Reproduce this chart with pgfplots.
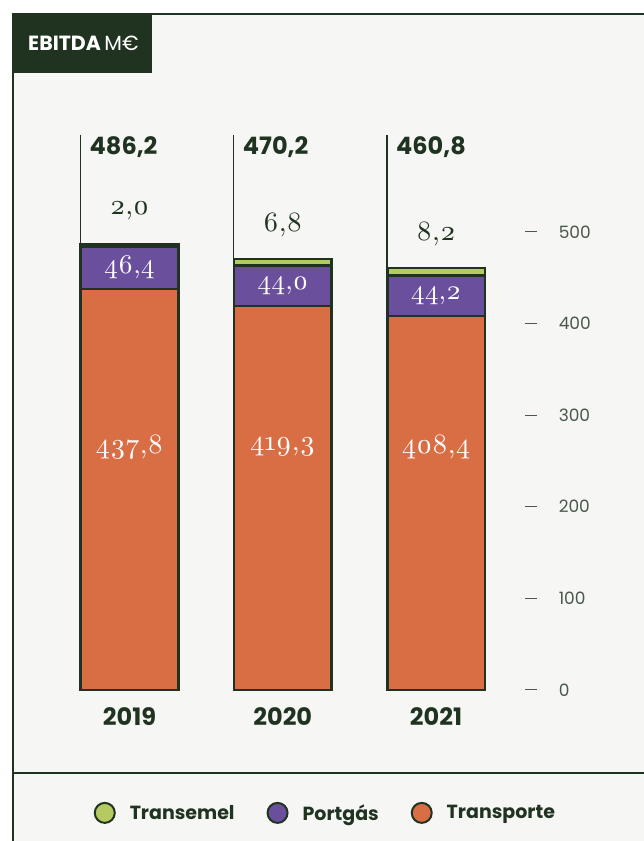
\documentclass[border=0pt]{standalone}
\usepackage{pgfplots}
\pgfplotsset{compat=1.18}
\usepackage{fontspec}
\newfontfamily\pop{Poppins}
\newfontfamily\numf{lmroman10-regular}[Extension=.otf, Numbers=OldStyle]
\newcommand\fs[1]{\fontsize{#1bp}{#1bp}\selectfont}
\definecolor{dkg}{HTML}{1F3320}
\definecolor{bgc}{HTML}{F6F6F4}
\definecolor{orng}{HTML}{D96E45}
\definecolor{purp}{HTML}{6A4F9D}
\definecolor{lgrn}{HTML}{B5CB61}
\definecolor{tickc}{HTML}{4A584B}
\begin{document}
\begin{tikzpicture}[x=1bp,y=1bp]
\useasboundingbox (0,0) rectangle (644,841);
\fill[white] (0,0) rectangle (644,841);
\fill[bgc] (13,0) rectangle (644,827);
\draw[dkg,line width=2.5bp] (13,0) -- (13,827) -- (644,827);
\draw[dkg,line width=2bp] (13,68) -- (644,68);
\fill[dkg] (13,768) rectangle (152,827);
\node[anchor=west,inner sep=0,text=white] at (28,798) {\pop\fs{20.5}\textbf{EBITDA}\,M€};
\begin{axis}[
  at={(9.5,165)}, anchor=south west,
  scale only axis, width=516bp, height=458bp,
  xmin=-0.75, xmax=2.617, ymin=0, ymax=500,
  clip=false,
  axis x line=bottom, axis y line=right,
  axis line style={draw=none},
  ybar stacked, bar width=97.5bp,
  xtick={0,1,2}, xticklabels={2019,2020,2021},
  xtick style={draw=none},
  xticklabel style={font=\pop\fs{24}\bfseries, text=dkg, anchor=center, yshift=-21bp},
  ytick={0,100,...,500},
  ytick style={draw=tickc, line width=1bp},
  major tick length=12bp, tick align=center,
  yticklabel style={font=\pop\fs{17}, text=tickc, anchor=west, inner sep=0pt, xshift=22bp},
  /pgf/number format/assume math mode=true,
  reverse legend, legend columns=3,
  legend style={at={(0.1531,-0.2686)}, anchor=west, draw=none, fill=none,
    font=\pop\fs{19}\bfseries, text=dkg, inner sep=0pt,
    /tikz/every odd column/.append style={column sep=12bp},
    /tikz/every even column/.append style={column sep=30bp}},
  every axis plot/.append style={draw=dkg, line width=2.5bp},
  every axis plot post/.append style={legend image code/.code={%
    \filldraw[##1,draw=dkg,line width=2bp] (11bp,0) circle (10bp);}},
]
\addplot[fill=orng] coordinates {(0,437.8) (1,419.3) (2,408.4)};
\addlegendentry{Transporte}
\addplot[fill=purp] coordinates {(0,46.4) (1,44.0) (2,44.2)};
\addlegendentry{Portgás}
\addplot[fill=lgrn] coordinates {(0,2.0) (1,6.8) (2,8.2)};
\addlegendentry{Transemel}

% anchor points for the labels (drawn above the bars after the axis)
\coordinate (b0) at ([xshift=-49bp]axis cs:0,486.2);
\coordinate (b1) at ([xshift=-49bp]axis cs:1,470.2);
\coordinate (b2) at ([xshift=-49bp]axis cs:2,460.8);
\coordinate (t0) at ([xshift=-49bp]axis cs:0,606);
\coordinate (t1) at ([xshift=-49bp]axis cs:1,606);
\coordinate (t2) at ([xshift=-49bp]axis cs:2,606);
\coordinate (s0) at ([xshift=-40bp]axis cs:0,593);
\coordinate (s1) at ([xshift=-40bp]axis cs:1,593);
\coordinate (s2) at ([xshift=-40bp]axis cs:2,593);
\coordinate (g0) at ([yshift=34bp]axis cs:0,486.2);
\coordinate (g1) at ([yshift=34bp]axis cs:1,470.2);
\coordinate (g2) at ([yshift=34bp]axis cs:2,460.8);
\coordinate (p0) at (axis cs:0,461);
\coordinate (p1) at (axis cs:1,441.3);
\coordinate (p2) at (axis cs:2,430.5);
\coordinate (o0) at (axis cs:0,265);
\coordinate (o1) at (axis cs:1,265);
\coordinate (o2) at (axis cs:2,265);
\end{axis}
% totals with leader lines
\foreach \i in {0,1,2} \draw[dkg, line width=1.2bp] (b\i) -- (t\i);
\node[anchor=west, font=\pop\fs{24}\bfseries, text=dkg, inner sep=0] at (s0) {486,2};
\node[anchor=west, font=\pop\fs{24}\bfseries, text=dkg, inner sep=0] at (s1) {470,2};
\node[anchor=west, font=\pop\fs{24}\bfseries, text=dkg, inner sep=0] at (s2) {460,8};
% Transemel
\node[font=\numf\fs{28}, text=dkg] at (g0) {2,0};
\node[font=\numf\fs{28}, text=dkg] at (g1) {6,8};
\node[font=\numf\fs{28}, text=dkg] at (g2) {8,2};
% Portgás
\node[font=\numf\fs{27}, text=white] at (p0) {46,4};
\node[font=\numf\fs{27}, text=white] at (p1) {44,0};
\node[font=\numf\fs{27}, text=white] at (p2) {44,2};
% Transporte
\node[font=\numf\fs{28}, text=white] at (o0) {437,8};
\node[font=\numf\fs{28}, text=white] at (o1) {419,3};
\node[font=\numf\fs{28}, text=white] at (o2) {408,4};
\end{tikzpicture}
\end{document}
